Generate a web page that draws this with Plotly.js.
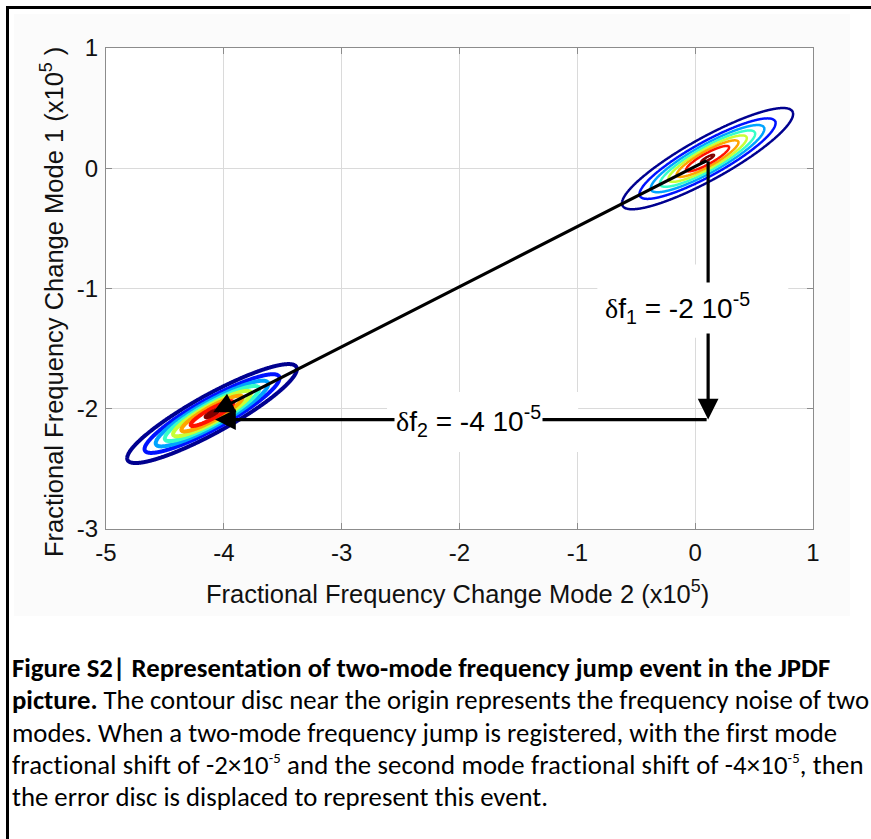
<!DOCTYPE html>
<html><head><meta charset="utf-8">
<script src="https://cdn.plot.ly/plotly-3.0.1.min.js"></script>
<style>
html,body{margin:0;padding:0;background:#fff;width:871px;height:839px;overflow:hidden;}
#frame{position:absolute;left:6px;top:6px;width:900px;height:900px;border-top:3px solid #000;border-left:3px solid #000;}
#figbg{position:absolute;left:14px;top:14px;width:836px;height:602px;background:#fbfbfb;}
#plot{position:absolute;left:0;top:0;width:871px;height:839px;}
#caption{position:absolute;left:12px;top:652px;font-family:Carlito,Calibri,Lato,sans-serif;color:#000;white-space:nowrap;}
#caption div{height:32.3px;line-height:32.3px;}
#caption span.l{display:inline-block;}
#caption sup{font-size:55%;vertical-align:0.75em;line-height:0;}
</style></head>
<body>
<div id="figbg"></div>
<div id="frame"></div>
<div id="plot"></div>
<div id="caption">
<div><span class="l"><b>Figure S2| Representation of two-mode frequency jump event in the JPDF</b></span></div>
<div><span class="l"><b>picture.</b> The contour disc near the origin represents the frequency noise of two</span></div>
<div><span class="l">modes. When a two-mode frequency jump is registered, with the first mode</span></div>
<div><span class="l">fractional shift of -2×10<sup>-5</sup> and the second mode fractional shift of -4×10<sup>-5</sup>, then</span></div>
<div><span class="l">the error disc is displaced to represent this event.</span></div>
</div>
<script>
// ---- data (units of 1e-5) ----
const xTicks = [-5, -4, -3, -2, -1, 0, 1];
const yTicks = [-3, -2, -1, 0, 1];
const blobCenterX = [0.105, -4.10];
const blobCenterY = [0.08, -2.04];
const blobAngleDeg = [28.5, 28.4];
const blobSigmaMajor = [0.374, 0.371];
const blobSigmaMinor = [0.080, 0.072];
const contourLevels = [0.09, 0.218, 0.346, 0.474, 0.602, 0.730, 0.858, 0.986];
const levelColors = ['rgb(0,0,143)','rgb(0,18,255)','rgb(0,164,255)','rgb(55,255,200)','rgb(200,255,55)','rgb(255,164,0)','rgb(255,18,0)','rgb(128,0,0)'];
const jumpFrom = [0.11, 0.07];
const jumpTo = [-4.09, -2.03];
const cornerY = -2.09;
const horizEndX = -4.075;
const jumpMode1 = -2;   // delta f1 (x1e-5)
const jumpMode2 = -4;   // delta f2 (x1e-5)

// ---- build contour traces ----
function blobTrace(i, lw) {
  const step = 0.005, hx = 0.95, hy = 0.65;
  const nx = Math.round(hx/step), ny = Math.round(hy/step);
  const cx = blobCenterX[i], cy = blobCenterY[i];
  const th = blobAngleDeg[i]*Math.PI/180, c = Math.cos(th), s = Math.sin(th);
  const sM = blobSigmaMajor[i], sm = blobSigmaMinor[i];
  const xs = [], ys = [], z = [];
  for (let k = -nx; k <= nx; k++) xs.push(cx + k*step);
  for (let k = -ny; k <= ny; k++) ys.push(cy + k*step);
  for (let j = 0; j < ys.length; j++) {
    const row = [];
    for (let k = 0; k < xs.length; k++) {
      const dx = xs[k]-cx, dy = ys[j]-cy;
      const u = dx*c + dy*s, v = -dx*s + dy*c;
      row.push(Math.exp(-0.5*(u*u/(sM*sM) + v*v/(sm*sm))));
    }
    z.push(row);
  }
  const n = contourLevels.length;
  const cs = levelColors.map((col, k) => [k/(n-1), col]);
  return {
    type: 'contour', x: xs, y: ys, z: z,
    autocontour: false,
    contours: {coloring: 'lines', start: contourLevels[0], end: contourLevels[n-1], size: (contourLevels[n-1]-contourLevels[0])/(n-1)},
    zmin: contourLevels[0], zmax: contourLevels[n-1],
    colorscale: cs, showscale: false,
    line: {width: lw, smoothing: 1},
    hoverinfo: 'skip'
  };
}
const traces = [blobTrace(0, 2.5), blobTrace(1, 4)];

const tickFont = {family: 'Liberation Sans, Arial, sans-serif', size: 24, color: '#111'};
const axisCommon = {
  showgrid: true, gridcolor: '#dadada', gridwidth: 1, zeroline: false,
  showline: true, linecolor: '#8c8c8c', linewidth: 1.2, mirror: 'ticks',
  ticks: 'inside', ticklen: 6, tickcolor: '#8c8c8c', tickfont: tickFont,
  fixedrange: true
};
const arrowCommon = {xref: 'x', yref: 'y', axref: 'x', ayref: 'y', text: '', showarrow: true,
  arrowhead: 2, arrowsize: 1.3, arrowwidth: 3.2, arrowcolor: '#000', standoff: 0, startstandoff: 0};
const labelFont = {family: 'Liberation Sans, Arial, sans-serif', size: 28, color: '#000'};
const delta = '<span style="font-family:Liberation Serif, serif">δ</span>';
const layout = {
  width: 871, height: 839,
  margin: {l: 106, r: 58, t: 48, b: 310, pad: 0},
  paper_bgcolor: 'rgba(0,0,0,0)', plot_bgcolor: '#fff',
  showlegend: false,
  xaxis: Object.assign({}, axisCommon, {range: [-5, 1], tickvals: xTicks, ticktext: xTicks.map(String), ticklabelstandoff: 2}),
  yaxis: Object.assign({}, axisCommon, {range: [-3, 1], tickvals: yTicks, ticktext: yTicks.map(String), ticklabelstandoff: 2}),
  shapes: [
    {type: 'rect', xref: 'x', yref: 'y', layer: 'between', x0: -0.83, x1: 0.79, y0: -0.80, y1: -1.41, fillcolor: '#fff', line: {width: 0}},
    {type: 'rect', xref: 'x', yref: 'y', layer: 'between', x0: -2.615, x1: -0.993, y0: -1.86, y1: -2.36, fillcolor: '#fff', line: {width: 0}}
  ],
  annotations: [
    Object.assign({}, arrowCommon, {x: jumpTo[0], y: jumpTo[1], ax: jumpFrom[0], ay: jumpFrom[1]}),
    Object.assign({}, arrowCommon, {x: jumpFrom[0], y: cornerY, ax: jumpFrom[0], ay: jumpFrom[1]}),
    Object.assign({}, arrowCommon, {x: horizEndX, y: cornerY, ax: jumpFrom[0], ay: cornerY}),
    {xref: 'x', yref: 'y', x: -0.153, y: -1.16, showarrow: false, bgcolor: '#fff', borderpad: 5,
     text: delta + 'f<sub>1</sub> = ' + jumpMode1 + ' 10<sup>-5</sup>', font: labelFont},
    {xref: 'x', yref: 'y', x: -1.927, y: -2.10, showarrow: false, bgcolor: '#fff', borderpad: 1,
     text: delta + 'f<sub>2</sub> = ' + jumpMode2 + ' 10<sup>-5</sup>', font: labelFont},
    {xref: 'paper', yref: 'paper', x: 0.4965, y: -0.131, xanchor: 'center', yanchor: 'middle', showarrow: false,
     text: 'Fractional Frequency Change Mode 2 (x10<sup>5</sup>)', font: {family: 'Liberation Sans, Arial, sans-serif', size: 25.5, color: '#111'}},
    {xref: 'paper', yref: 'paper', x: -0.0764, y: 0.472, xanchor: 'center', yanchor: 'middle', textangle: -90, showarrow: false,
     text: 'Fractional Frequency Change Mode 1 (x10<sup>5</sup> )', font: {family: 'Liberation Sans, Arial, sans-serif', size: 25.5, color: '#111'}}
  ]
};
Plotly.newPlot('plot', traces, layout, {staticPlot: true, displayModeBar: false});

// fit caption: font size from the last line, letter spacing per line to match line ends
(function(){
  const cap = document.getElementById('caption');
  const lines = Array.from(cap.querySelectorAll('span.l'));
  const targets = [818, 857, 825, 850, 536];
  cap.style.fontSize = '100px';
  const w5 = lines[4].getBoundingClientRect().width;
  cap.style.fontSize = (100*targets[4]/w5) + 'px';
  lines.forEach((el, i) => {
    const w = el.getBoundingClientRect().width;
    const nChars = el.textContent.length;
    el.style.letterSpacing = ((targets[i]-w)/nChars) + 'px';
  });
})();
</script>
</body></html>
